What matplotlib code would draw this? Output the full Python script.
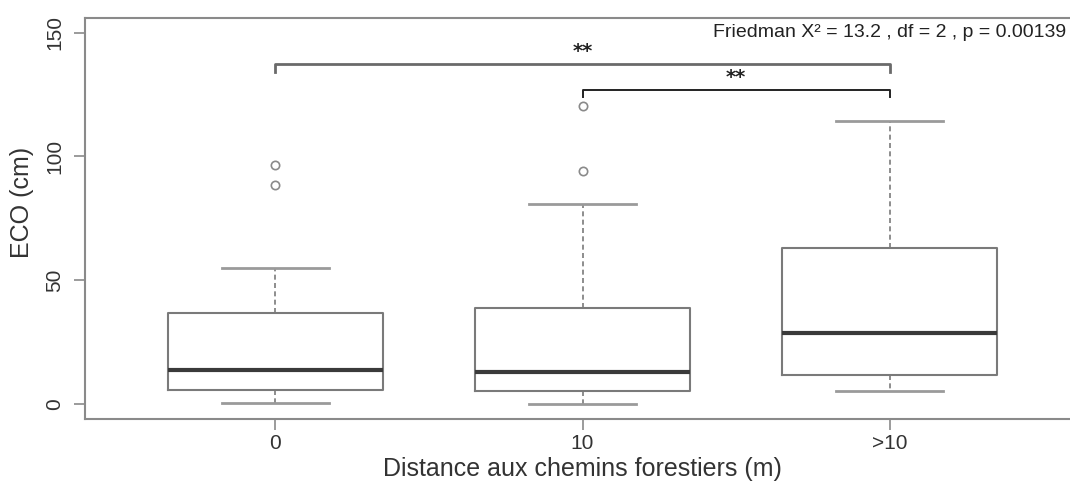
import matplotlib
matplotlib.use('Agg')
from matplotlib import pyplot as plt


# données
groupes = ['0', '10', '>10']
q1 = [5.7, 5.4, 11.7]
mediane = [13.7, 13.1, 28.6]
q3 = [36.7, 38.7, 63.0]
moust_bas = [0.3, 0.0, 5.4]
moust_haut = [55.1, 80.9, 114.2]
aberrants = [[88.6, 96.6], [94.2, 120.3], []]

# comparaisons deux à deux
paires = [(1, 3), (2, 3)]
hauteurs = [137.2, 127.0]
signif = ['**', '**']
friedman = 'Friedman X² = 13.2 , df = 2 , p = 0.00139'

plt.rcParams['font.family'] = ['Liberation Sans', 'DejaVu Sans']

W, H = 1070, 483
fig = plt.figure(figsize=(W / 100, H / 100), dpi=100)
ax = fig.add_axes([85 / W, (H - 419) / H, 995 / W, (419 - 17.7) / H])

stats = []
for i in range(len(groupes)):
    stats.append({'label': groupes[i], 'q1': q1[i], 'med': mediane[i], 'q3': q3[i],
                  'whislo': moust_bas[i], 'whishi': moust_haut[i], 'fliers': aberrants[i]})

gris = '#7a7a7a'
ax.bxp(stats, positions=[1, 2, 3], widths=0.7, capwidths=0.35,
       boxprops=dict(color=gris, linewidth=1.5),
       medianprops=dict(color='#3a3a3a', linewidth=3),
       whiskerprops=dict(color=gris, linewidth=1.2, linestyle=(0, (3, 2))),
       capprops=dict(color='#9a9a9a', linewidth=2),
       flierprops=dict(marker='o', markerfacecolor='none', markeredgecolor='#8a8a8a',
                       markersize=6, markeredgewidth=1.2))

# crochets de significativité
couleurs = ['#6a6a6a', '#222222']
largeurs = [2.0, 1.4]
for (a, b), h, s, c, lw in zip(paires, hauteurs, signif, couleurs, largeurs):
    ax.plot([a, a, b, b], [h - 3, h, h, h - 3], color=c, linewidth=lw)
    ax.text((a + b) / 2, h + 5, s, ha='center', va='center', fontsize=14,
            fontweight='bold', family='DejaVu Sans', color='#222222')

ax.text(3, 150, friedman, ha='center', va='center', fontsize=14, color='#222222')

ax.set_xlim(0.38, 3.62)
ax.set_ylim(-6, 156)
ax.set_xticks([1, 2, 3])
ax.set_xticklabels(groupes)
ax.set_yticks([0, 50, 100, 150])
ax.spines['right'].set_visible(False)
for sp in ax.spines.values():
    sp.set_color('#8a8a8a')
    sp.set_linewidth(1.5)
ax.tick_params(axis='both', colors='#8a8a8a', length=8, width=1.2, labelcolor='#333333',
               labelsize=15)
ax.tick_params(axis='y', labelrotation=90, pad=7)
ax.tick_params(axis='x', pad=3)
for lab in ax.get_yticklabels():
    lab.set_va('center')

fig.text(22 / W, 1 - 202 / H, 'ECO (cm)', rotation=90, ha='center', va='center',
         fontsize=18, color='#333333')
fig.text(582 / W, 1 - 469 / H, 'Distance aux chemins forestiers (m)', ha='center',
         va='center', fontsize=18, color='#333333')

fig.savefig('out.png', dpi=100)
